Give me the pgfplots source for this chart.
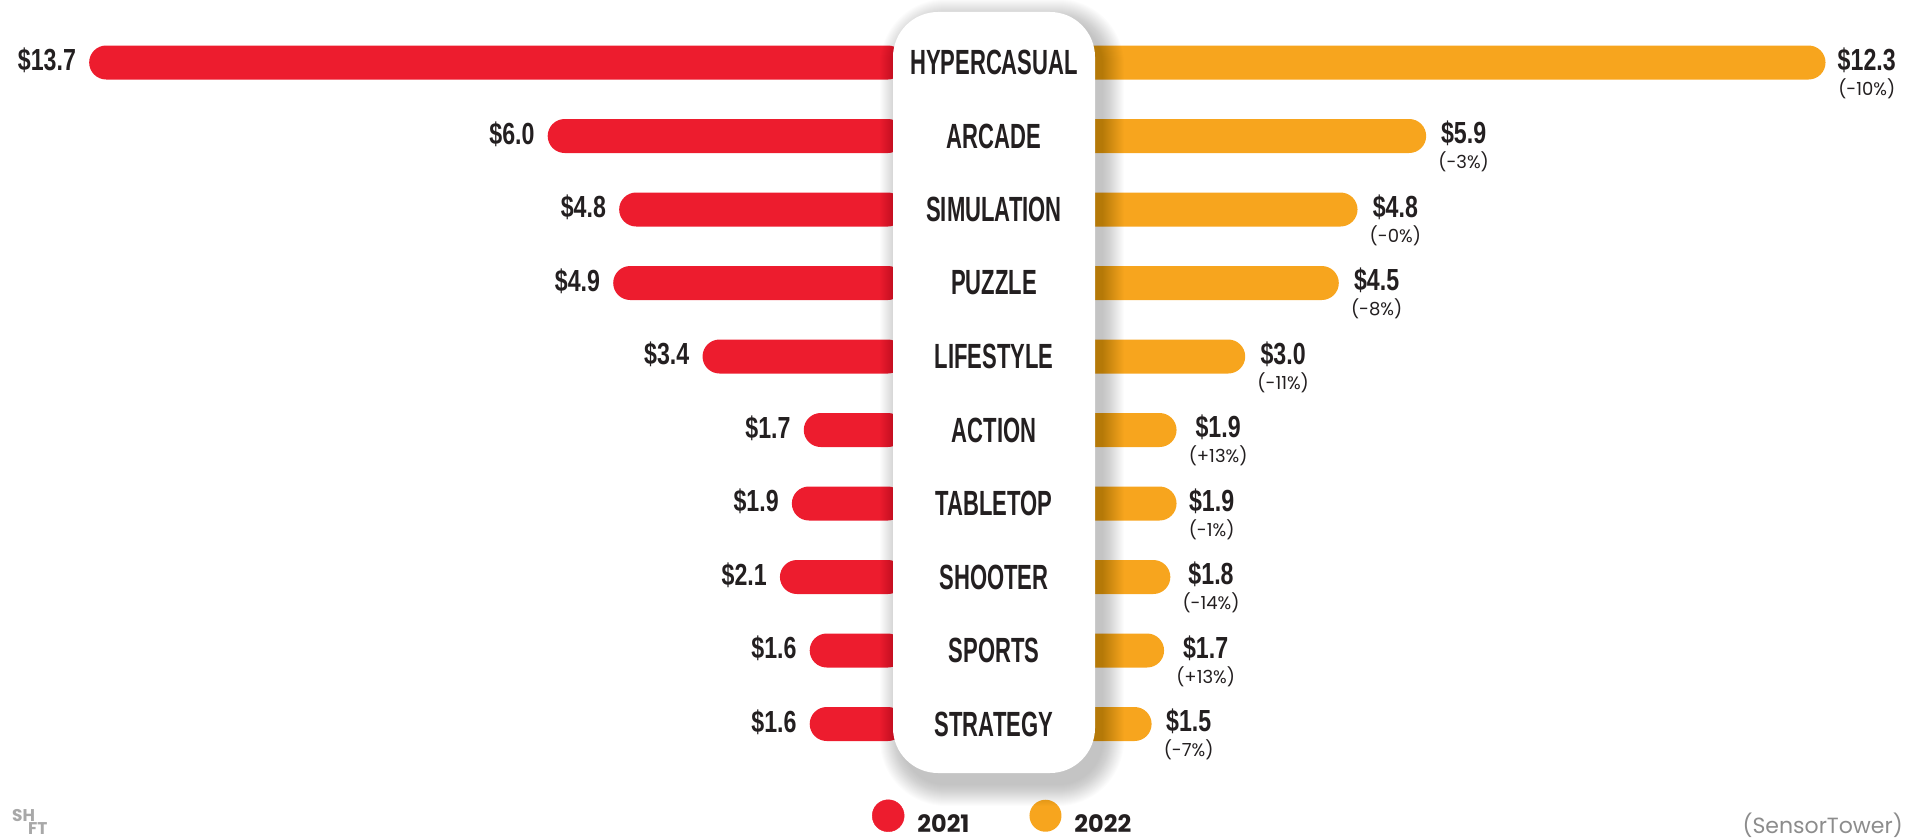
\documentclass[border=0pt]{standalone}
\usepackage{pgfplots}
\pgfplotsset{compat=1.18}
\usepackage{pgfplotstable}
\usepackage{fontspec}
\setmainfont{Poppins}
\newfontfamily\condfamily[FakeStretch=0.63]{Liberation Sans}
\newfontfamily\valfamily[FakeStretch=0.76]{Liberation Sans}
\newfontfamily\popfont{Poppins}
\newcommand\catfont{\condfamily\bfseries\fontsize{35}{40}\selectfont}
\newcommand\valfont{\valfamily\bfseries\fontsize{30.5}{34}\selectfont}
\newcommand\pctfont{\popfont\fontsize{18}{21}\selectfont}
\newcommand\legfont{\popfont\bfseries\fontsize{24}{28}\selectfont}
\definecolor{red21}{HTML}{ED1C2E}
\definecolor{org22}{HTML}{F7A51E}
\definecolor{txt}{HTML}{231F20}
\definecolor{lgrey}{HTML}{A8A8A8}
\definecolor{mgrey}{HTML}{8C8C8C}

\pgfplotstableread{
y v21 v22 pct
0 13.7 12.3 -10
1 6.0 5.9 -3
2 4.8 4.8 -0
3 4.9 4.5 -8
4 3.4 3.0 -11
5 1.7 1.9 +13
6 1.9 1.9 -1
7 2.1 1.8 -14
8 1.6 1.7 +13
9 1.6 1.5 -7
}\data

\newcommand\pctof[1]{\pgfmathtruncatemacro\ri{#1}\pgfplotstablegetelem{\ri}{pct}\of\data(\pgfplotsretval\%)}

\begin{document}
\begin{tikzpicture}[x=1pt,y=1pt]
\useasboundingbox (0,0) rectangle (1908,839);
\clip (0,0) rectangle (1908,839);
% 2021 (left)
\begin{axis}[at={(11.75pt,78.25pt)}, anchor=south west,
  width=893.25pt, height=735pt, scale only axis,
  xmin=0, xmax=15, ymin=-0.5, ymax=9.5,
  x dir=reverse, y dir=reverse, hide axis, clip=false]
\addplot[xbar, bar width=34pt, fill=red21, draw=none, rounded corners=17pt,
  point meta=explicit symbolic,
  nodes near coords={\$\pgfplotspointmeta},
  every node near coord/.append style={anchor=base east, xshift=-13pt, yshift=-8pt,
    inner sep=0pt, font=\valfont, text=txt}]
  table[x=v21, y=y, meta=v21] {\data};
\end{axis}
% 2022 (right)
\begin{axis}[at={(1058pt,78.25pt)}, anchor=south west,
  width=842.4pt, height=735pt, scale only axis,
  xmin=0, xmax=13.5, ymin=-0.5, ymax=9.5,
  y dir=reverse, hide axis, clip=false,
  legend columns=2,
  legend style={at={(axis description cs:-0.2208,-0.0765)}, anchor=west,
    draw=none, fill=none, inner sep=0pt, outer sep=0pt,
    font=\legfont, text=txt, nodes={inner sep=0pt},
    /tikz/every odd column/.append style={column sep=13pt},
    /tikz/every even column/.append style={column sep=60pt}},
  legend cell align=left]
\addlegendimage{legend image code/.code={\fill[red21] (16pt,9pt) circle (16pt);}}
\addlegendentry{2021}
\addplot[xbar, bar width=34pt, fill=org22, draw=none, rounded corners=17pt,
  legend image code/.code={\fill[org22] (16pt,9pt) circle (16pt);},
  point meta=explicit symbolic,
  visualization depends on={y \as \rawy},
  nodes near coords={\begin{tabular}[t]{@{}c@{}}{\valfont\$\pgfplotspointmeta}\\[2pt]{\pctfont\pctof{\rawy}}\end{tabular}},
  every node near coord/.append style={anchor=base west, xshift=12pt, yshift=-7.5pt,
    inner sep=0pt, font=\pctfont, text=txt}]
  table[x=v22, y=y, meta=v22] {\data};
\addlegendentry{2022}
\end{axis}
% shadow of the centre panel
\foreach \k in {1,...,22}{
  \pgfmathsetmacro\ee{22-\k}
  \pgfmathsetmacro\rr{45+\ee}
  \fill[black, opacity=0.013, rounded corners=\rr pt]
    ({893+8-\ee}, {66-12-\ee}) rectangle ({1095+8+\ee}, {827-8+\ee});
}
\fill[white, rounded corners=45pt] (893,66) rectangle (1095,827);
\foreach \n [count=\i from 0] in {HYPERCASUAL,ARCADE,SIMULATION,PUZZLE,LIFESTYLE,ACTION,TABLETOP,SHOOTER,SPORTS,STRATEGY}{
  \node[font=\catfont, text=txt, inner sep=0pt] at (994, {776.5-73.5*\i}) {\n};
}
% footer
\node[anchor=base west, inner sep=0pt, font=\popfont\bfseries\fontsize{17}{20}\selectfont, text=lgrey] at (12,18) {SH};
\node[anchor=base west, inner sep=0pt, font=\popfont\bfseries\fontsize{17}{20}\selectfont, text=lgrey] at (28,5) {FT};
\node[anchor=base east, inner sep=0pt, font=\popfont\fontsize{22}{26}\selectfont, text=mgrey] at (1903,6) {(SensorTower)};
\end{tikzpicture}
\end{document}
